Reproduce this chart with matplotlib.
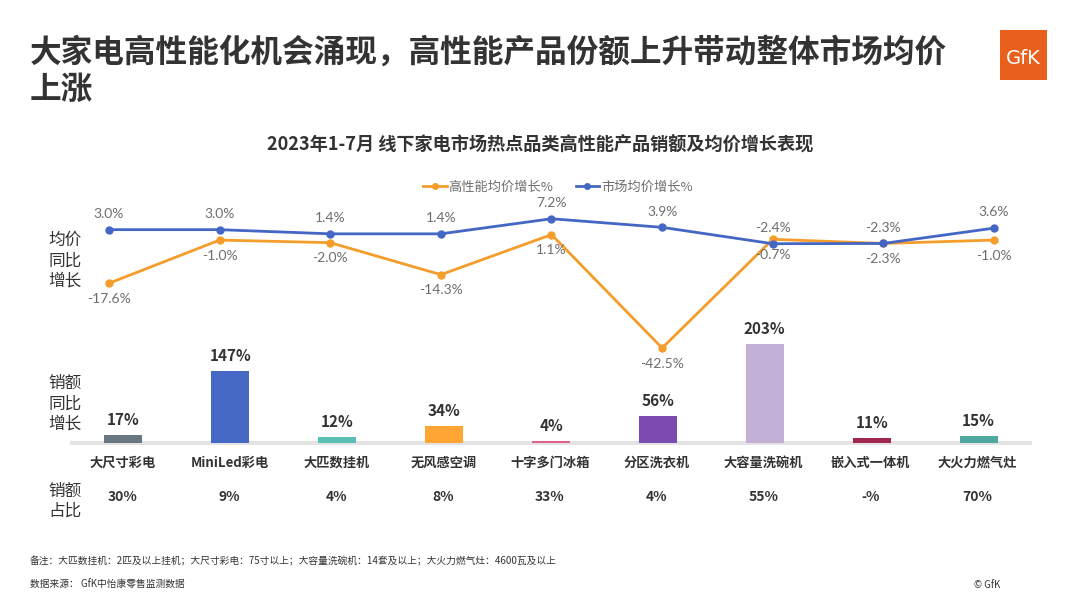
import matplotlib.pyplot as plt
from matplotlib.patches import Rectangle

plt.rcParams['font.family'] = ['Noto Sans CJK SC', 'DejaVu Sans']

categories = ['大尺寸彩电', 'MiniLed彩电', '大匹数挂机', '无风感空调', '十字多门冰箱',
              '分区洗衣机', '大容量洗碗机', '嵌入式一体机', '大火力燃气灶']
high_perf_price = [-17.6, -1.0, -2.0, -14.3, 1.1, -42.5, -0.7, -2.3, -1.0]
market_price = [3.0, 3.0, 1.4, 1.4, 7.2, 3.9, -2.4, -2.3, 3.6]
sales_growth = [17, 147, 12, 34, 4, 56, 203, 11, 15]
sales_share = ['30%', '9%', '4%', '8%', '33%', '4%', '55%', '-%', '70%']
bar_colors = ['#6b7780', '#4468c4', '#5bbfb5', '#ffa533', '#e0608a',
              '#7b4bb0', '#c2b0d6', '#a0284e', '#4fa8a0']

W, H = 1080, 608
fig = plt.figure(figsize=(W / 100, H / 100), dpi=100)
fig.patch.set_facecolor('white')

def fx(px):
    return px / W

def fy(py):
    return 1 - py / H

dark = '#333333'
grey = '#6e6e6e'
label_font = ['Lato', 'DejaVu Sans']

# headline
fig.text(fx(30), fy(53), '大家电高性能化机会涌现，高性能产品份额上升带动整体市场均价',
         fontsize=22.8, fontweight='bold', color=dark, va='center', ha='left')
fig.text(fx(30), fy(90), '上涨', fontsize=22.8, fontweight='bold', color=dark,
         va='center', ha='left')

# logo
fig.patches.append(Rectangle((fx(1000), fy(80)), fx(47), 50 / H, transform=fig.transFigure,
                             facecolor='#e8601c', edgecolor='none'))
fig.text(fx(1023), fy(58), 'GfK', fontsize=14, color='white', ha='center', va='center',
         family=['DejaVu Sans'])

# chart title
fig.text(fx(540), fy(145), '2023年1-7月 线下家电市场热点品类高性能产品销额及均价增长表现',
         fontsize=13.1, fontweight='bold', color=dark, ha='center', va='center')

# axes: bars and lines have slightly different horizontal spacing
bottom, top = fy(445), fy(180)
ax_bar = fig.add_axes([fx(70), bottom, fx(1032) - fx(70), top - bottom])
ax_line = fig.add_axes([fx(53.7), bottom, fx(1049.3) - fx(53.7), top - bottom])
for ax in (ax_bar, ax_line):
    ax.set_axis_off()
ax_line.patch.set_alpha(0)

x = list(range(len(categories)))
ax_bar.set_xlim(-0.5, len(categories) - 0.5)
ax_line.set_xlim(-0.5, len(categories) - 0.5)
ax_bar.set_ylim(-4.1, 539)
ax_line.set_ylim(-79.8, 22.1)

ax_bar.bar(x, sales_growth, width=0.356, color=bar_colors, zorder=2)
ax_bar.axhline(0, color='#e3e3e3', lw=3, zorder=1)
for xi, v in zip(x, sales_growth):
    ax_bar.annotate(f'{v}%', (xi, v), xytext=(0, 5), textcoords='offset points',
                    ha='center', va='bottom', fontsize=11, fontweight='bold', color=dark)

orange = '#f59d2a'
blue = '#4466c4'
ax_line.plot(x, high_perf_price, color=orange, lw=2, marker='o', ms=5,
             label='高性能均价增长%', zorder=3)
ax_line.plot(x, market_price, color=blue, lw=2, marker='o', ms=5,
             label='市场均价增长%', zorder=4)
for xi, v in zip(x, market_price):
    ax_line.annotate(f'{v:.1f}%', (xi, v), xytext=(0, 7), textcoords='offset points',
                     ha='center', va='bottom', fontsize=10, color=grey, family=label_font)
for xi, v in zip(x, high_perf_price):
    ax_line.annotate(f'{v:.1f}%', (xi, v), xytext=(0, -7), textcoords='offset points',
                     ha='center', va='top', fontsize=10, color=grey, family=label_font)

fig.legend(handles=ax_line.get_lines(), loc='center', bbox_to_anchor=(fx(558), fy(187)),
           ncol=2, frameon=False, fontsize=9.5, labelcolor=grey, handlelength=1.75,
           columnspacing=1.7, handletextpad=0.15, markerscale=0.8)

# category and share rows
for xi, cat, share in zip(x, categories, sales_share):
    px = 123 + 106.75 * xi
    fig.text(fx(px), fy(463), cat, fontsize=9.5, fontweight='bold', color=dark,
             ha='center', va='center')
    fig.text(fx(px), fy(497), share, fontsize=10, fontweight='bold', color=dark,
             ha='center', va='center')

# row labels
fig.text(fx(65), fy(261), '均价\n同比\n增长', fontsize=12, color=dark, ha='center',
         va='center', linespacing=1.25)
fig.text(fx(65), fy(404), '销额\n同比\n增长', fontsize=12, color=dark, ha='center',
         va='center', linespacing=1.25)
fig.text(fx(65), fy(501), '销额\n占比', fontsize=12, color=dark, ha='center',
         va='center', linespacing=1.25)

# footnotes
fig.text(fx(30), fy(561), '备注：大匹数挂机：2匹及以上挂机；大尺寸彩电：75寸以上；大容量洗碗机：14套及以上；大火力燃气灶：4600瓦及以上',
         fontsize=7, color=dark, ha='left', va='center')
fig.text(fx(30), fy(585), '数据来源： GfK中怡康零售监测数据', fontsize=7, color=dark,
         ha='left', va='center')
fig.text(fx(1000), fy(585), '© GfK', fontsize=7, color=dark, ha='right', va='center')

fig.savefig('out.png', dpi=100, facecolor='white')
